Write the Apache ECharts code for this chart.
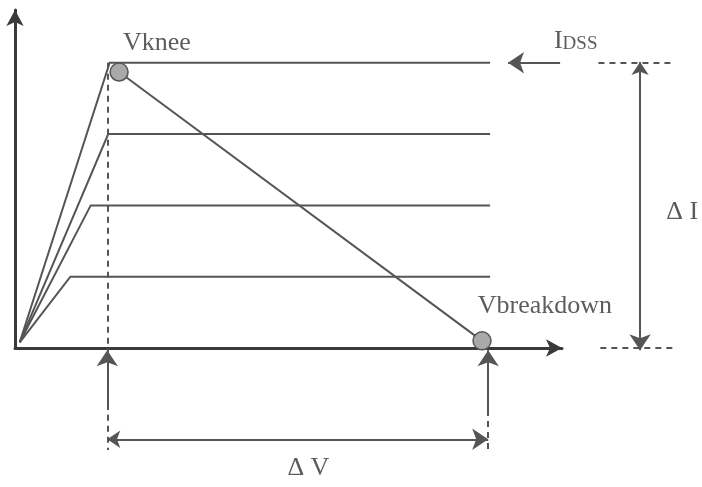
<!DOCTYPE html>
<html><head><meta charset="utf-8">
<script src="https://cdn.jsdelivr.net/npm/echarts@6/dist/echarts.min.js"></script>
<style>html,body{margin:0;padding:0;background:#fff}#c{width:702px;height:487px}</style>
</head><body><div id="c"></div>
<script>
// ---- data (drain voltage V, drain current I in level units) ----
const levelI = [4, 3, 2, 1];              // gate-bias current levels (IDSS = 4)
const kneeV = [2.0, 1.97, 1.6, 1.17];     // knee voltage of each curve
const curveStart = [0.1, 0.08];
const curveEndV = 10.04;
const loadStart = [2.2, 3.87];            // Vknee point
const loadEnd = [9.87, 0.1];              // Vbreakdown point
const vKnee = 1.95;
const vBreak = 10.0;
const iDss = 4;
const axisMaxV = 11.56;
const axisMaxI = 4.74;
// annotation geometry (data units)
const dashedLines = [
  [[vKnee, iDss], [vKnee, -1.43]],
  [[vBreak, -0.87], [vBreak, -1.43]],
  [[12.33, iDss], [13.89, iDss]],
  [[12.37, 0], [13.95, 0]]
];
const singleArrows = [
  [[vKnee, -0.87], [vKnee, -0.03]],
  [[vBreak, -0.87], [vBreak, -0.03]],
  [[11.52, iDss], [10.42, iDss]]
];
const doubleArrows = [
  [[vKnee, -1.28], [vBreak, -1.28]],
  [[13.21, 4.01], [13.21, -0.03]]
];
const labels = [
  {name: 'Vknee', value: [3.0, 4.28]},
  {name: 'Vbreakdown', value: [11.2, 0.59]},
  {name: '{a|I}{b|DSS}', value: [11.85, 4.3]},
  {name: 'Δ V', value: [6.2, -1.68]},
  {name: 'Δ I', value: [14.1, 1.91]}
];

const lineColor = '#555';
const textColor = '#333';
const serif = '"Liberation Serif", "DejaVu Serif", serif';

const curves = levelI.map((I, i) => ({coords: [curveStart, [kneeV[i], I], [curveEndV, I]]}));
const arrowSize = [13, 16];

const chart = echarts.init(document.getElementById('c'));
chart.setOption({
  animation: false,
  backgroundColor: '#fff',
  grid: {left: 15, right: 140, top: 10, bottom: 139},
  xAxis: {
    type: 'value', min: 0, max: axisMaxV,
    axisLine: {show: true, onZero: false, symbol: ['none', 'arrow'], symbolSize: arrowSize,
      lineStyle: {color: '#3a3a3a', width: 3}},
    axisTick: {show: false}, axisLabel: {show: false}, splitLine: {show: false}
  },
  yAxis: {
    type: 'value', min: 0, max: axisMaxI,
    axisLine: {show: true, onZero: false, symbol: ['none', 'arrow'], symbolSize: arrowSize,
      lineStyle: {color: '#3a3a3a', width: 3}},
    axisTick: {show: false}, axisLabel: {show: false}, splitLine: {show: false}
  },
  series: [
    {
      type: 'lines', coordinateSystem: 'cartesian2d', polyline: true, clip: false,
      lineStyle: {color: lineColor, width: 2, opacity: 1},
      data: curves, silent: true
    },
    {
      type: 'lines', coordinateSystem: 'cartesian2d', clip: false,
      lineStyle: {color: lineColor, width: 2, opacity: 1},
      data: [{coords: [loadStart, loadEnd]}], silent: true
    },
    {
      type: 'lines', coordinateSystem: 'cartesian2d', clip: false,
      lineStyle: {color: lineColor, width: 2, type: [6, 5], opacity: 1},
      data: dashedLines.map(c => ({coords: c})), silent: true
    },
    {
      type: 'lines', coordinateSystem: 'cartesian2d', clip: false,
      symbol: ['none', 'arrow'], symbolSize: arrowSize,
      lineStyle: {color: lineColor, width: 2, opacity: 1},
      itemStyle: {color: lineColor},
      data: singleArrows.map(c => ({coords: c})), silent: true
    },
    {
      type: 'lines', coordinateSystem: 'cartesian2d', clip: false,
      symbol: ['arrow', 'arrow'], symbolSize: arrowSize,
      lineStyle: {color: lineColor, width: 2, opacity: 1},
      itemStyle: {color: lineColor},
      data: doubleArrows.map(c => ({coords: c})), silent: true
    },
    {
      type: 'scatter', clip: false, symbolSize: 18,
      itemStyle: {color: '#a9a9a9', borderColor: '#555', borderWidth: 1.5, opacity: 1},
      data: [loadStart, loadEnd], silent: true, z: 5
    },
    {
      type: 'scatter', clip: false, symbolSize: 0, silent: true, z: 6,
      data: labels,
      label: {
        show: true, position: 'inside', formatter: p => p.name,
        fontFamily: serif, fontSize: 26, color: textColor,
        rich: {
          a: {fontFamily: serif, fontSize: 26, color: textColor},
          b: {fontFamily: serif, fontSize: 19, color: textColor, padding: [5, 0, 0, 0]}
        }
      }
    }
  ]
});
</script></body></html>
